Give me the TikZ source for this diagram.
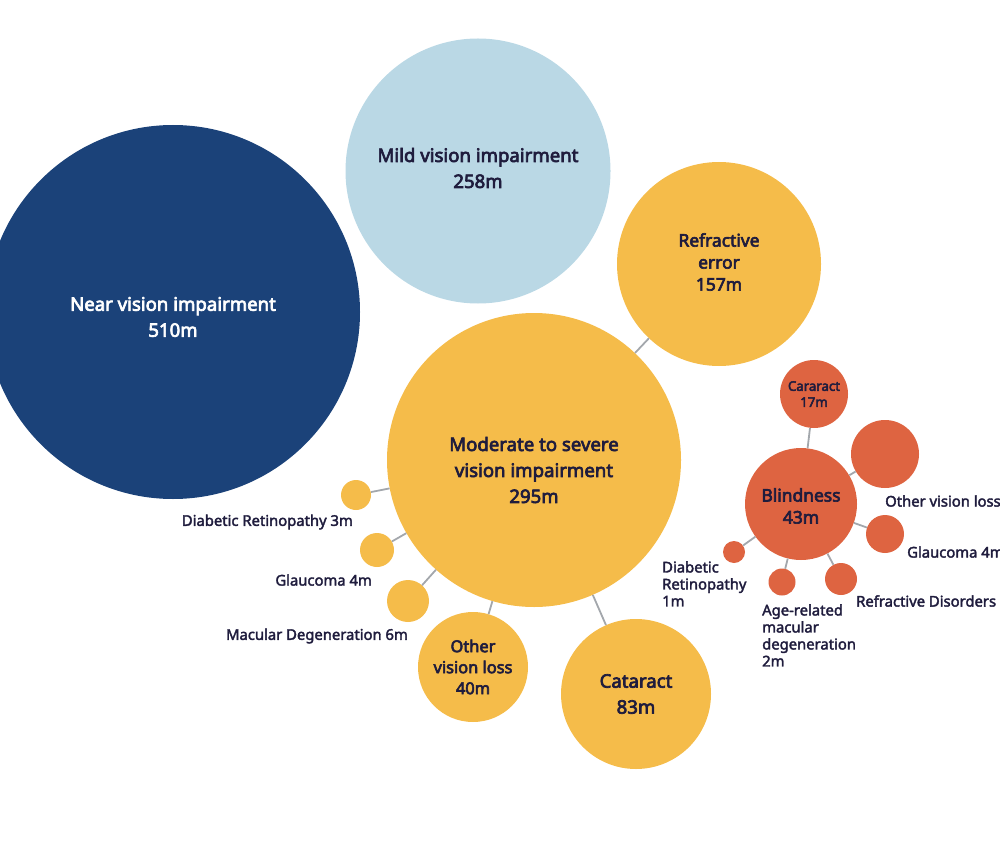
\documentclass[tikz,border=0pt]{standalone}
\usepackage{fontspec}
\setmainfont{Noto Sans}[AutoFakeBold=3.6]
\newfontfamily\tagfont{Noto Sans}[FakeBold=2.4]
\definecolor{navy}{HTML}{1B4279}
\definecolor{sky}{HTML}{BAD8E5}
\definecolor{gold}{HTML}{F5BC4A}
\definecolor{rust}{HTML}{DE6441}
\definecolor{ink}{HTML}{1F1C3D}
\definecolor{wire}{HTML}{A3A7AC}

\begin{document}
\begin{tikzpicture}[x=1pt,y=-1pt]
				\tikzstyle{bubble} = [circle, inner sep=0pt, align=center, text=ink]
				\tikzstyle{bigtxt} = [font=\bfseries\fontsize{18.6}{26}\selectfont, align=center, text=ink]
				\tikzstyle{midtxt} = [font=\bfseries\fontsize{17.4}{22}\selectfont, align=center, text=ink]
				\tikzstyle{tag} = [inner sep=0pt, text=ink, align=left, font=\tagfont\fontsize{14.8}{17}\selectfont]
				\tikzstyle{link} = [draw=wire, line width=1.8pt]
				
				\useasboundingbox (0,0) rectangle (1000,842);
				
				\node[bubble, fill=navy, minimum size=374, label={[bigtxt, text=white, yshift=-5]center:Near vision impairment\\510m}] (near) at (173,312) {};
				\node[bubble, fill=sky, minimum size=265, label={[bigtxt, yshift=3]center:Mild vision impairment\\258m}] (mild) at (478,171) {};
				\node[bubble, fill=gold, minimum size=204, label={[midtxt, yshift=2]center:Refractive\\error\\157m}] (refr) at (719,264) {};
				\node[bubble, fill=gold, minimum size=294, label={[bigtxt, yshift=-10]center:Moderate to severe\\vision impairment\\295m}] (mod) at (534,460) {};
				\node[bubble, fill=gold, minimum size=150, label={[bigtxt]center:Cataract\\83m}] (cat) at (636,694) {};
				\node[bubble, fill=gold, minimum size=110, label={[midtxt, font=\bfseries\fontsize{16.4}{21}\selectfont]center:Other\\vision loss\\40m}] (oth) at (473,667) {};
				
				\node[bubble, fill=gold, minimum size=30] (dr) at (356,495) {};
				\node[bubble, fill=gold, minimum size=34] (gl) at (377,550) {};
				\node[bubble, fill=gold, minimum size=42] (md) at (408,601) {};
				\node[tag, anchor=east] (drtxt) at (353,522) {Diabetic Retinopathy 3m};
				\node[tag, anchor=east] (gltxt) at (372,580) {Glaucoma 4m};
				\node[tag, anchor=east] (mdtxt) at (408,636) {Macular Degeneration 6m};
				
				\draw[link] (mod) -- (refr);
				\draw[link] (mod) -- (cat);
				\draw[link] (mod) -- (oth);
				\draw[link] (mod) -- (dr);
				\draw[link] (mod) -- (gl);
				\draw[link] (mod) -- (md);
				
				% blindness cluster
				\node[bubble, fill=rust, minimum size=112, label={[midtxt, yshift=-2]center:Blindness\\43m}] (blind) at (801,504) {};
				\node[bubble, fill=rust, minimum size=68, label={[align=center, text=ink, font=\bfseries\fontsize{13.2}{16}\selectfont]center:Cararact\\17m}] (bcat) at (814,394) {};
				\node[bubble, fill=rust, minimum size=68] (both) at (885,454) {};
				\node[bubble, fill=rust, minimum size=38] (bgl) at (885,534) {};
				\node[bubble, fill=rust, minimum size=32] (bref) at (841,579) {};
				\node[bubble, fill=rust, minimum size=27] (bamd) at (782,582) {};
				\node[bubble, fill=rust, minimum size=22] (bdr) at (734,552) {};
				
				\node[tag, anchor=west] (bothtxt) at (885,501) {Other vision loss};
				\node[tag, anchor=west] (bgltxt) at (907,552) {Glaucoma 4m};
				\node[tag, anchor=west] (breftxt) at (856,601) {Refractive Disorders};
				\node[tag, anchor=north west] (bamdtxt) at (762,604) {Age-related\\macular\\degeneration\\2m};
				\node[tag, anchor=north west] (bdrtxt) at (662,561) {Diabetic\\Retinopathy\\1m};
				
				\draw[link] (blind) -- (bcat);
				\draw[link] (blind) -- (both);
				\draw[link] (blind) -- (bgl);
				\draw[link] (blind) -- (bref);
				\draw[link] (blind) -- (bamd);
				\draw[link] (blind) -- (bdr);
				
\end{tikzpicture}
\end{document}
